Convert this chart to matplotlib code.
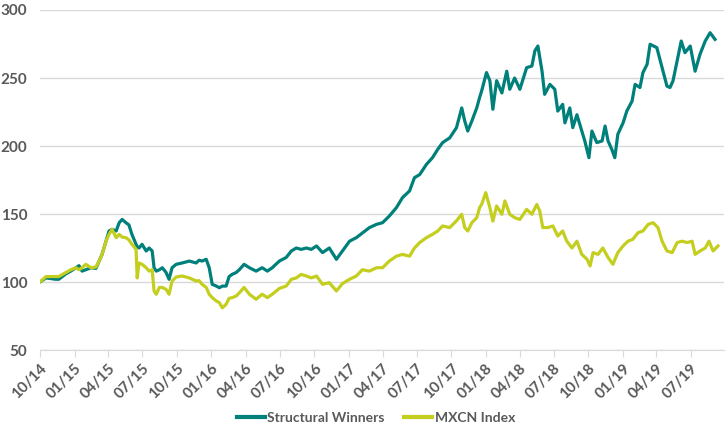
import pandas as pd
import matplotlib.pyplot as plt
import matplotlib.dates as mdates

# Valores (índice base 100)
early_dates = [
    '2014-10-01', '2014-10-17', '2014-11-12', '2014-11-20', '2014-12-09', '2014-12-22',
    '2015-01-05', '2015-01-13', '2015-01-21', '2015-01-31', '2015-02-14', '2015-02-27',
    '2015-03-07', '2015-03-15', '2015-03-26', '2015-04-03', '2015-04-11', '2015-04-22',
    '2015-04-30', '2015-05-08', '2015-05-18', '2015-05-26', '2015-06-03', '2015-06-14',
    '2015-06-17', '2015-06-22', '2015-06-30', '2015-07-11', '2015-07-19', '2015-07-27',
    '2015-08-01', '2015-08-07', '2015-08-15', '2015-08-23', '2015-09-02', '2015-09-10',
    '2015-09-18', '2015-09-29', '2015-10-15', '2015-11-03', '2015-11-21', '2015-11-29',
    '2015-12-07', '2015-12-18', '2015-12-26', '2016-01-03', '2016-01-14', '2016-01-22',
    '2016-01-30', '2016-02-09', '2016-02-17', '2016-02-25', '2016-03-07', '2016-03-15',
    '2016-03-28', '2016-04-11', '2016-04-29', '2016-05-15', '2016-05-29', '2016-06-11',
    '2016-06-30', '2016-07-18', '2016-08-01', '2016-08-14', '2016-08-27', '2016-09-10',
    '2016-09-23', '2016-10-07', '2016-10-23', '2016-11-10', '2016-11-29', '2016-12-15',
    '2017-01-03', '2017-01-21', '2017-02-06', '2017-02-25', '2017-03-16', '2017-04-01',
    '2017-04-19', '2017-05-08', '2017-05-24', '2017-06-12', '2017-06-25', '2017-07-09',
    '2017-07-27', '2017-08-12', '2017-08-26', '2017-09-08', '2017-09-27', '2017-10-15',
    '2017-10-29', '2017-11-06', '2017-11-14', '2017-11-25', '2017-12-08',
]
sw_early = [
    100, 103, 102, 102, 106, 108,
    110.5, 112, 108, 109, 110.5, 110,
    115, 120, 130, 137.5, 138.7, 137.5,
    143.6, 146, 143.6, 142, 135, 127.7,
    126, 125, 127.7, 122.8, 125, 122.8,
    110.5, 108, 109, 110.5, 107, 102,
    110.5, 113, 114, 115.4, 114, 116,
    115.4, 116.7, 110.5, 98.3, 97, 95.8,
    97, 97, 104, 105.6, 107, 109,
    113, 110.5, 108, 110.5, 108, 110.5,
    115.4, 118, 122.8, 125, 124, 125,
    124, 126.5, 121.6, 125, 116.7, 122.8,
    130, 132.6, 136, 140, 142.4, 143.6,
    148.5, 154.7, 162, 167, 176.7, 179,
    186.5, 191.4, 197.5, 202.5, 206, 213.5,
    228, 218.4, 211, 218.4, 228,
]
mx_early = [
    100, 104, 104, 104, 107, 109,
    110.5, 109, 110.5, 113, 110.5, 111,
    115, 120, 130, 135, 138.7, 132.6,
    135, 133, 132.6, 131, 127.7, 124,
    103, 114, 113, 110.5, 108, 109,
    93.4, 91, 96, 96, 94.6, 91,
    100.7, 103.7, 104.4, 103, 100.7, 101,
    98.3, 96, 91, 88.5, 86, 84.8,
    81, 83.6, 88, 88.5, 89.7, 92,
    96, 91, 87.3, 91, 88.5, 91,
    95.3, 97, 102, 103, 105.6, 104.4,
    103, 104.4, 98.3, 99.5, 93.4, 98.8,
    102, 104.4, 109, 108, 110.5, 110.5,
    115.4, 119, 120.3, 119, 125, 129,
    132.6, 135, 137.5, 141.2, 140, 145,
    149.8, 140, 137.5, 143.6, 147.3,
]

sw_late_dates = [
    '2017-12-16', '2017-12-21', '2018-01-03', '2018-01-12', '2018-01-20', '2018-01-30',
    '2018-02-13', '2018-02-26', '2018-03-06', '2018-03-19', '2018-04-02', '2018-04-20',
    '2018-05-04', '2018-05-12', '2018-05-20', '2018-05-31', '2018-06-07', '2018-06-21',
    '2018-07-04', '2018-07-12', '2018-07-25', '2018-07-31', '2018-08-13', '2018-08-21',
    '2018-09-01', '2018-09-14', '2018-09-22', '2018-10-03', '2018-10-11', '2018-10-24',
    '2018-11-07', '2018-11-15', '2018-11-23', '2018-12-03', '2018-12-11', '2018-12-19',
    '2019-01-02', '2019-01-12', '2019-01-26', '2019-02-03', '2019-02-16', '2019-02-24',
    '2019-03-07', '2019-03-15', '2019-04-02', '2019-04-16', '2019-04-29', '2019-05-07',
    '2019-05-15', '2019-05-26', '2019-06-06', '2019-06-16', '2019-06-30', '2019-07-13',
    '2019-07-26', '2019-08-09', '2019-08-22', '2019-09-04',
]
sw_late = [
    236, 240.4, 254, 248, 227, 248,
    239, 255, 241.7, 250, 241.7, 257.6,
    258.8, 270, 273.5, 255, 238, 245.3,
    241.7, 225.7, 230.6, 217, 228, 213.5,
    223, 211, 203.7, 191.4, 211, 202.5,
    203.7, 214.7, 203.7, 197.5, 191.4, 208.6,
    217, 225.7, 233, 245.3, 243, 254,
    260, 274.8, 272.3, 257.6, 244, 243,
    247.8, 262.5, 277.2, 268.6, 273.5, 255,
    267.4, 277.2, 283.3, 278.4,
]

mx_late_dates = [
    '2017-12-16', '2017-12-21', '2018-01-01', '2018-01-12', '2018-01-20', '2018-01-30',
    '2018-02-13', '2018-02-21', '2018-03-06', '2018-03-19', '2018-04-02', '2018-04-20',
    '2018-05-04', '2018-05-17', '2018-05-25', '2018-06-02', '2018-06-15', '2018-06-29',
    '2018-07-12', '2018-07-25', '2018-08-05', '2018-08-19', '2018-09-01', '2018-09-14',
    '2018-09-28', '2018-10-06', '2018-10-14', '2018-10-27', '2018-11-09', '2018-11-23',
    '2018-12-06', '2018-12-19', '2019-01-02', '2019-01-15', '2019-01-28', '2019-02-11',
    '2019-02-24', '2019-03-10', '2019-03-23', '2019-04-05', '2019-04-16', '2019-04-29',
    '2019-05-13', '2019-05-26', '2019-06-08', '2019-06-22', '2019-07-05', '2019-07-13',
    '2019-07-26', '2019-08-09', '2019-08-19', '2019-08-30', '2019-09-12',
]
mx_late = [
    155, 157, 165.7, 154.7, 144.8, 155.9,
    149.8, 159.6, 149.8, 147.3, 146, 153.4,
    149.8, 157, 152.2, 140, 140, 141.2,
    133.8, 137.5, 130, 125, 130, 120.3,
    116.7, 111.8, 121.6, 120.3, 125, 118,
    113, 121.6, 126.5, 130, 131.4, 136.3,
    137.5, 142.4, 143.6, 140, 130, 122.8,
    121.6, 129, 130, 129, 130, 120.3,
    122.8, 125, 130, 122.8, 126.5,
]

sw = pd.Series(sw_early + sw_late, index=pd.to_datetime(early_dates + sw_late_dates))
mx = pd.Series(mx_early + mx_late, index=pd.to_datetime(early_dates + mx_late_dates))

plt.rcParams['font.family'] = ['Lato', 'DejaVu Sans']
gris = '#595959'

fig = plt.figure(figsize=(7.28, 4.33), dpi=100)
ax = fig.add_axes([40 / 728, 1 - 350 / 433, 684 / 728, 340 / 433])

ax.plot(sw.index, sw.values, color='#00807A', lw=2.3, label='Structural Winners')
ax.plot(mx.index, mx.values, color='#C4CE1F', lw=2.3, label='MXCN Index')

ax.set_ylim(50, 300)
ax.set_yticks(range(50, 301, 50))
ax.set_xlim(pd.Timestamp('2014-10-01'), pd.Timestamp('2019-09-28'))
ax.xaxis.set_major_locator(mdates.MonthLocator(bymonth=[1, 4, 7, 10]))
ax.xaxis.set_major_formatter(mdates.DateFormatter('%m/%y'))

ax.grid(axis='y', color='#D9D9D9', lw=1)
ax.set_axisbelow(True)
for s in ['top', 'right', 'left']:
    ax.spines[s].set_visible(False)
ax.spines['bottom'].set_color('#D9D9D9')
ax.tick_params(axis='y', length=0, pad=9, labelsize=11, labelcolor=gris)
ax.tick_params(axis='x', length=5, color='#D9D9D9', labelsize=11, labelcolor=gris, pad=3)
for t in ax.get_yticklabels():
    t.set_fontweight('bold')
for t in ax.get_xticklabels():
    t.set_rotation(45)
    t.set_ha('right')
    t.set_va('top')
    t.set_rotation_mode('anchor')
    t.set_fontweight('bold')

leg = fig.legend(loc='center', bbox_to_anchor=(376 / 728, 1 - 418 / 433), ncol=2, frameon=False,
                 handlelength=2.0, handletextpad=0.2, columnspacing=1.4,
                 prop={'size': 10, 'weight': 'bold'})
for t in leg.get_texts():
    t.set_color(gris)
for h in leg.get_lines():
    h.set_linewidth(3)

fig.savefig('out.png', dpi=100)
